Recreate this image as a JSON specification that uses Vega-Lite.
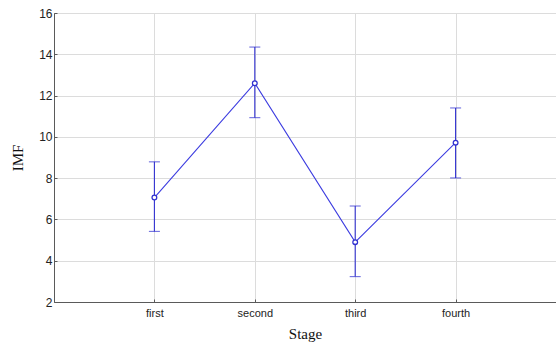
{
  "$schema": "https://vega.github.io/schema/vega-lite/v6.json",
  "width": 502,
  "height": 289,
  "autosize": "none",
  "padding": {"left": 54, "top": 13, "right": 0, "bottom": 50},
  "background": "white",
  "config": {
    "view": {"stroke": "#5a5a5a", "strokeWidth": 1},
    "axis": {
      "labelFont": "Liberation Sans",
      "labelFontSize": 11,
      "labelColor": "#222222",
      "titleFont": "Liberation Serif",
      "titleFontSize": 15,
      "titleFontWeight": "normal",
      "titleColor": "#111111",
      "domainColor": "#5a5a5a",
      "tickColor": "#5a5a5a",
      "gridColor": "#dcdcdc",
      "gridWidth": 1
    }
  },
  "data": {
    "values": [
      {"stage": "first", "imf": 7.06, "lo": 5.42, "hi": 8.79},
      {"stage": "second", "imf": 12.6, "lo": 10.93, "hi": 14.35},
      {"stage": "third", "imf": 4.9, "lo": 3.23, "hi": 6.65},
      {"stage": "fourth", "imf": 9.72, "lo": 8.01, "hi": 11.4}
    ]
  },
  "encoding": {
    "x": {
      "field": "stage",
      "type": "nominal",
      "sort": ["first", "second", "third", "fourth"],
      "scale": {"type": "point", "padding": 1},
      "axis": {
        "title": "Stage",
        "labelAngle": 0,
        "labelPadding": 8,
        "tickSize": -3,
        "titlePadding": 8,
        "grid": true
      }
    }
  },
  "layer": [
    {
      "mark": {"type": "line", "stroke": "#3d3de0", "strokeWidth": 1.1, "opacity": 1},
      "encoding": {
        "y": {
          "field": "imf",
          "type": "quantitative",
          "scale": {"domain": [2, 16], "nice": false, "zero": false},
          "axis": {
            "title": "IMF",
            "values": [2, 4, 6, 8, 10, 12, 14, 16],
            "labelFontSize": 12,
            "tickSize": -3,
            "labelPadding": 5,
            "titlePadding": 13,
            "grid": true
          }
        }
      }
    },
    {
      "mark": {"type": "rule", "stroke": "#3030d0", "strokeWidth": 1.1},
      "encoding": {
        "y": {"field": "lo", "type": "quantitative"},
        "y2": {"field": "hi"}
      }
    },
    {
      "mark": {"type": "tick", "color": "#3030d0", "size": 11, "thickness": 1.1},
      "encoding": {"y": {"field": "lo", "type": "quantitative"}}
    },
    {
      "mark": {"type": "tick", "color": "#3030d0", "size": 11, "thickness": 1.1},
      "encoding": {"y": {"field": "hi", "type": "quantitative"}}
    },
    {
      "mark": {"type": "point", "shape": "circle", "size": 22, "filled": false, "color": "#3030d0", "strokeWidth": 1.3, "fill": "white", "fillOpacity": 1},
      "encoding": {"y": {"field": "imf", "type": "quantitative"}}
    }
  ]
}
